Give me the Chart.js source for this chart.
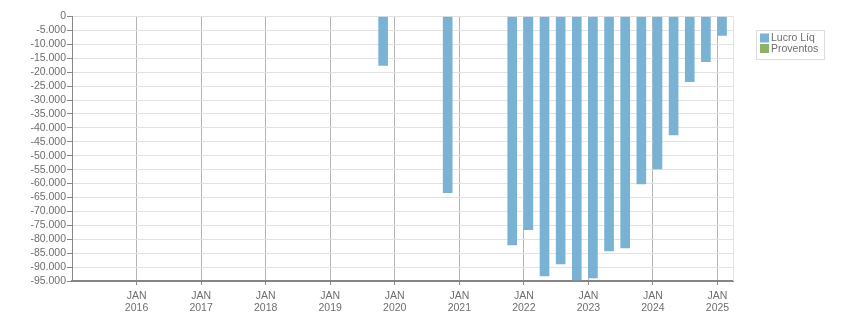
<!DOCTYPE html>
<html>
<head>
<meta charset="utf-8">
<script src="https://cdn.jsdelivr.net/npm/chart.js@4.4.1/dist/chart.umd.min.js"></script>
<style>
    body { margin: 0; background: #fff; }
    .wrap { width: 851px; height: 313px; position: relative; }
</style>
</head>
<body>
<div class="wrap"><canvas id="canvas"></canvas></div>
<script>
// quarters (trimestre/ano) and values
const quarters = ['4T19', '4T20', '4T21', '1T22', '2T22', '3T22', '4T22', '1T23',
    '2T23', '3T23', '4T23', '1T24', '2T24', '3T24', '4T24', '1T25'];
const lucroLiq = [-17600, -63300, -82000, -76600, -93200, -88900, -94600, -93900,
    -84200, -83100, -60100, -54700, -42500, -23400, -16200, -6800];
const proventos = [];
const tickYears = [2016, 2017, 2018, 2019, 2020, 2021, 2022, 2023, 2024, 2025];
const tickMonth = 'JAN';

const textColor = '#6e6e6e';
const font = { family: '"Liberation Sans", Arial, sans-serif', size: 10.5 };
const barShift = 0.07; // bars start at the quarter date

function quarterToX(q) {
    const n = parseInt(q[0]);
    const year = 2000 + parseInt(q.slice(2));
    return year + (n - 1) / 4 + barShift;
}

function formatThousands(v) {
    if (v === 0) return '0';
    const s = String(Math.abs(v)).replace(/\B(?=(\d{3})+(?!\d))/g, '.');
    return (v < 0 ? '-' : '') + s;
}

const series = [
    { label: 'Lucro Líq', values: lucroLiq, color: '#7ab2d4' },
    { label: 'Proventos', values: proventos, color: '#8db36b' },
];

// legend in a thin box + right border of the plot
const boxLegend = {
    id: 'boxLegend',
    afterDraw(chart) {
        const ctx = chart.ctx;
        const area = chart.chartArea;
        ctx.save();
        ctx.strokeStyle = '#e2e2e2';
        ctx.lineWidth = 1;
        ctx.beginPath();
        ctx.moveTo(Math.round(area.right) + 0.5, area.top);
        ctx.lineTo(Math.round(area.right) + 0.5, area.bottom);
        ctx.stroke();

        const left = 756, top = 30;
        ctx.strokeStyle = '#dcdcdc';
        ctx.strokeRect(left + 0.5, top + 0.5, 68, 29);
        ctx.font = `${font.size}px ${font.family}`;
        ctx.textBaseline = 'middle';
        chart.data.datasets.forEach((ds, i) => {
            const y = top + 3.5 + i * 10.5;
            ctx.fillStyle = ds.backgroundColor;
            ctx.fillRect(left + 4, y, 9, 9);
            ctx.fillStyle = textColor;
            ctx.fillText(ds.label, left + 15, y + 5);
        });
        ctx.restore();
    }
};

const ctx = document.getElementById('canvas').getContext('2d');
const myChart = new Chart(ctx, {
    type: 'bar',
    data: {
        datasets: series.map(s => ({
            label: s.label,
            data: s.values.map((v, i) => ({ x: quarterToX(quarters[i]), y: v })),
            backgroundColor: s.color,
            borderWidth: 0,
            barThickness: 9,
            grouped: false,
        })),
    },
    options: {
        responsive: true,
        maintainAspectRatio: false,
        animation: false,
        layout: { padding: { left: 0, top: 16.5, right: 118, bottom: 0 } },
        plugins: {
            legend: { display: false },
            tooltip: { enabled: false },
        },
        scales: {
            x: {
                type: 'linear',
                min: 2015,
                max: 2025.24,
                offset: false,
                afterBuildTicks(scale) {
                    scale.ticks = tickYears.map(v => ({ value: v }));
                },
                afterFit(scale) { scale.height = 32; },
                ticks: {
                    color: textColor,
                    font: { ...font, lineHeight: 1.18 },
                    padding: 5,
                    maxRotation: 0,
                    autoSkip: false,
                    callback: v => [tickMonth, String(v)],
                },
                grid: {
                    offset: false,
                    color: '#b4b4b4',
                    tickColor: '#888',
                    tickLength: 4,
                },
                border: { color: '#858585', width: 2 },
            },
            y: {
                min: -95000,
                max: 0,
                afterFit(scale) { scale.width = 72; },
                ticks: {
                    stepSize: 5000,
                    autoSkip: false,
                    color: textColor,
                    font: font,
                    padding: 1,
                    callback: v => formatThousands(v),
                },
                grid: {
                    color: '#e2e2e2',
                    tickColor: '#888',
                    tickLength: 5,
                },
                border: { color: '#888', width: 1 },
            },
        },
    },
    plugins: [boxLegend],
});
</script>
</body>
</html>
